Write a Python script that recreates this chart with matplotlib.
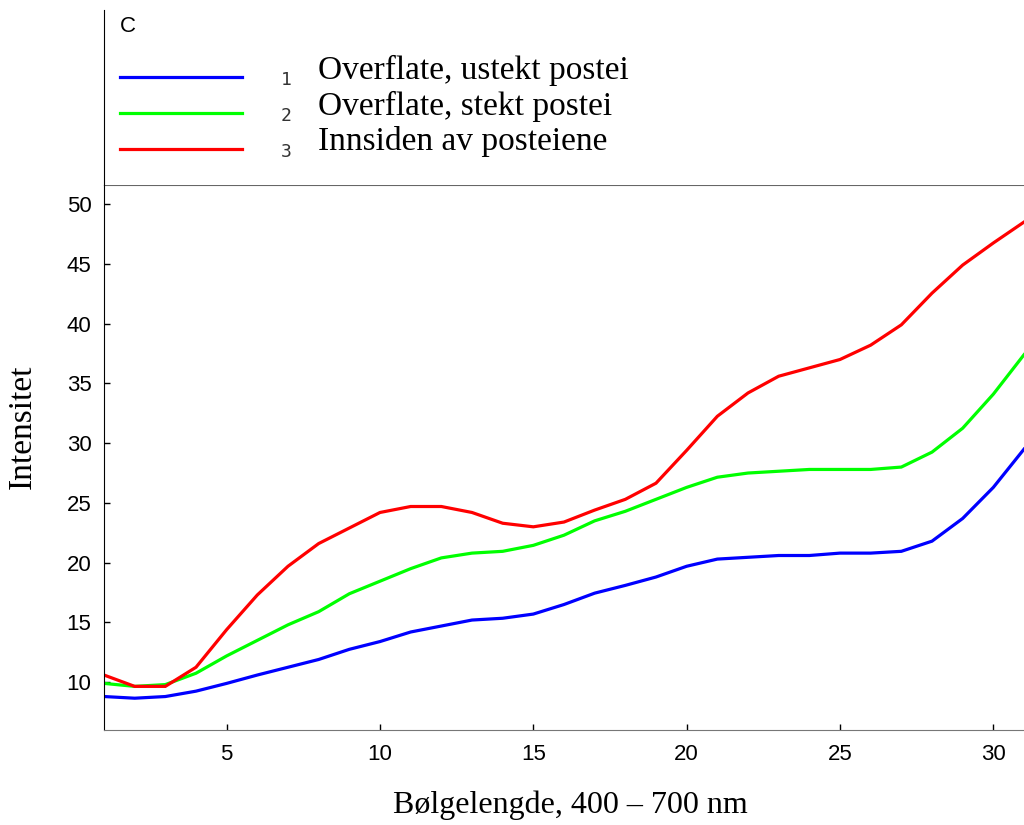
import matplotlib.pyplot as plt
import numpy as np

# Bølgelengde index 1..31 (400 - 700 nm)
wave = np.arange(1, 32)

ustekt = [8.8, 8.66, 8.8, 9.25, 9.9, 10.6, 11.25, 11.9, 12.75, 13.4, 14.2, 14.7,
          15.2, 15.35, 15.7, 16.5, 17.45, 18.1, 18.8, 19.7, 20.3, 20.45, 20.6,
          20.6, 20.8, 20.8, 20.95, 21.8, 23.7, 26.3, 29.5]
stekt = [9.9, 9.65, 9.8, 10.75, 12.2, 13.5, 14.8, 15.9, 17.4, 18.45, 19.5, 20.4,
         20.8, 20.95, 21.45, 22.3, 23.5, 24.3, 25.3, 26.3, 27.15, 27.5, 27.65,
         27.8, 27.8, 27.8, 28.0, 29.25, 31.25, 34.1, 37.4]
innside = [10.6, 9.65, 9.65, 11.25, 14.4, 17.3, 19.7, 21.6, 22.9, 24.2, 24.7, 24.7,
           24.2, 23.3, 23.0, 23.4, 24.4, 25.3, 26.65, 29.4, 32.25, 34.2, 35.6,
           36.3, 37.0, 38.2, 39.9, 42.55, 44.9, 46.75, 48.5]

labels = ['Overflate, ustekt postei', 'Overflate, stekt postei', 'Innsiden av posteiene']
colors = ['#0000ff', '#00ff00', '#ff0000']
yticks = [10, 15, 20, 25, 30, 35, 40, 45, 50]
xticks = [5, 10, 15, 20, 25, 30]

serif = 'Liberation Serif'
sans = 'Liberation Sans'

fig = plt.figure(figsize=(10.24, 8.25), dpi=100)

# main plot
ax = fig.add_axes([104/1024, 95/825, 920/1024, 545/825])
for vals, c in zip([ustekt, stekt, innside], colors):
    ax.plot(wave, vals, color=c, lw=2.3, solid_joinstyle='miter')
ax.set_xlim(1, 31)
ax.set_ylim(6, 51.6)
ax.set_xticks(xticks)
ax.set_yticks(yticks)
ax.tick_params(direction='in', length=4, width=1, labelsize=16)
ax.tick_params(axis='x', pad=10)
ax.tick_params(axis='y', pad=9)
for lab in ax.get_xticklabels() + ax.get_yticklabels():
    lab.set_fontfamily(sans)
ax.spines['right'].set_visible(False)
ax.spines['top'].set_color('#666666')
ax.spines['bottom'].set_color('#777777')
ax.spines['left'].set_color('black')
ax.set_xlabel('Bølgelengde, 400 – 700 nm', fontfamily=serif, fontsize=23, va='center')
ax.xaxis.set_label_coords((570 - 104) / 920, -(805 - 730) / 545)
ax.set_ylabel('Intensitet', fontfamily=serif, fontsize=24, va='center')
ax.yaxis.set_label_coords(-(104 - 23) / 920, (730 - 427) / 545)

# legend panel above
lg = fig.add_axes([104/1024, 640/825, 920/1024, 175/825])
lg.set_xlim(0, 920)
lg.set_ylim(175, 0)
for s in ['top', 'right', 'bottom']:
    lg.spines[s].set_visible(False)
lg.set_xticks([])
lg.set_yticks([])
lg.text(16, 17, 'C', fontfamily=sans, fontsize=16, va='center', ha='left')
for i, (lab, c) in enumerate(zip(labels, colors)):
    yy = 67 + i * 36
    lg.plot([16, 138], [yy, yy], color=c, lw=2.3)
    lg.text(182, yy + 3, str(i + 1), fontfamily='DejaVu Sans Mono', fontsize=13,
            color='#333333', va='center', ha='center')
    lg.text(214, 69 + i * 35.5, lab, fontfamily=serif, fontsize=24, va='baseline', ha='left')

fig.savefig('out.png', dpi=100)
